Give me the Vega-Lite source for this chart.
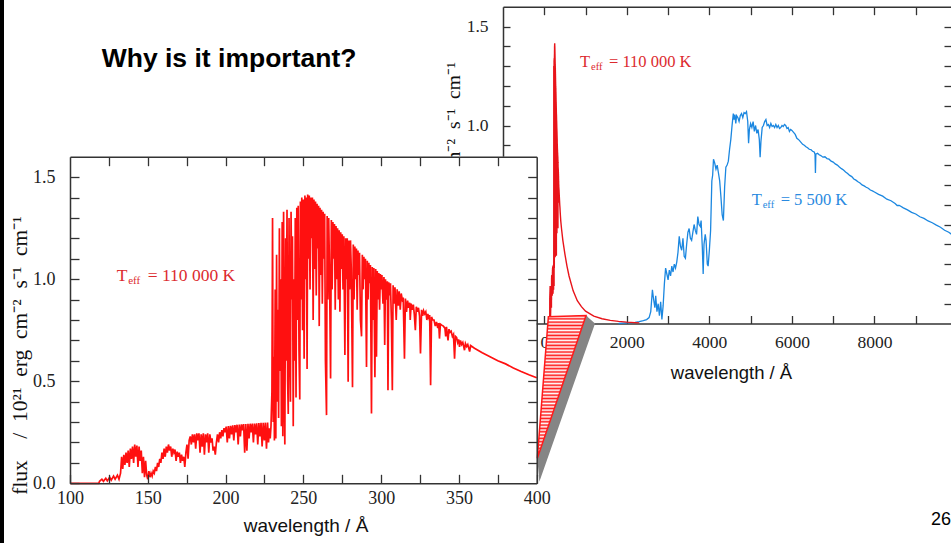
{
  "$schema": "https://vega.github.io/schema/vega-lite/v6.json",
  "width": 951,
  "height": 543,
  "autosize": {"type": "none"},
  "padding": 0,
  "background": "white",
  "config": {
    "view": {"stroke": null},
    "axis": {"grid": false, "labelFont": "Liberation Serif", "labelColor": "#222", "tickColor": "#333", "domainColor": "#333", "domainWidth": 1.5, "tickWidth": 1.3, "titleFont": "Liberation Sans", "titleFontWeight": "normal", "titleColor": "#111", "labelFlush": false, "labelOverlap": false, "labelBound": false}
  },
  "title": {"text": "Why is it important?", "anchor": "start", "frame": "group", "orient": "top", "offset": 0, "dx": 101.7, "dy": 95, "baseline": "alphabetic", "font": "Liberation Sans", "fontSize": 26.5, "fontWeight": "bold", "color": "black"},
  "datasets": {
    "hot": [
      {"w":100,"f":0},{"w":110,"f":0},{"w":118.5,"f":0},{"w":119,"f":0.01},{"w":120.5,"f":0.02},{"w":121.5,"f":0.01},{"w":123,"f":0.025},{"w":124,"f":0.012},{"w":125.5,"f":0.03},{"w":126.5,"f":0.015},{"w":128,"f":0.035},{"w":129,"f":0.02},{"w":130.5,"f":0.04},{"w":131.5,"f":0.02},{"w":132.5,"f":0.05},{"w":133.2,"f":0.13},{"w":133.9,"f":0.07},{"w":134.6,"f":0.14},{"w":135.3,"f":0.09},{"w":136,"f":0.15},{"w":136.7,"f":0.1},{"w":137.4,"f":0.16},{"w":138.1,"f":0.08},{"w":138.8,"f":0.17},{"w":139.5,"f":0.12},{"w":140.2,"f":0.18},{"w":140.9,"f":0.1},{"w":141.6,"f":0.19},{"w":142.3,"f":0.13},{"w":143,"f":0.185},{"w":143.7,"f":0.08},{"w":144.4,"f":0.18},{"w":145.1,"f":0.11},{"w":145.8,"f":0.16},{"w":146.5,"f":0.05},{"w":147.2,"f":0.13},{"w":147.9,"f":0.03},{"w":148.6,"f":0.11},{"w":149.3,"f":0.04},{"w":150,"f":0.02},{"w":150.7,"f":0.06},{"w":151.4,"f":0.03},{"w":152.1,"f":0.05},{"w":152.8,"f":0.035},{"w":153.5,"f":0.06},{"w":154.2,"f":0.05},{"w":154.9,"f":0.08},{"w":155.6,"f":0.06},{"w":156.3,"f":0.1},{"w":157,"f":0.08},{"w":157.7,"f":0.12},
      {"w":158.4,"f":0.1},{"w":159.1,"f":0.15},{"w":159.8,"f":0.12},{"w":160.5,"f":0.17},{"w":161.2,"f":0.13},{"w":161.9,"f":0.18},{"w":162.6,"f":0.15},{"w":163.3,"f":0.19},{"w":164,"f":0.16},{"w":164.7,"f":0.18},{"w":165.4,"f":0.13},{"w":166.1,"f":0.17},{"w":166.8,"f":0.15},{"w":167.5,"f":0.165},{"w":168.2,"f":0.11},{"w":168.9,"f":0.155},{"w":169.6,"f":0.13},{"w":170.3,"f":0.15},{"w":171,"f":0.1},{"w":171.7,"f":0.14},{"w":172.4,"f":0.11},{"w":173.1,"f":0.13},{"w":173.8,"f":0.08},{"w":174.5,"f":0.15},{"w":175.2,"f":0.19},{"w":175.9,"f":0.12},{"w":176.6,"f":0.21},{"w":177.3,"f":0.23},{"w":178,"f":0.19},{"w":178.7,"f":0.24},{"w":179.4,"f":0.2},{"w":180.1,"f":0.24},{"w":180.8,"f":0.17},{"w":181.5,"f":0.245},{"w":182.2,"f":0.21},{"w":182.9,"f":0.245},{"w":183.6,"f":0.15},{"w":184.3,"f":0.24},{"w":185,"f":0.18},{"w":185.7,"f":0.245},{"w":186.4,"f":0.14},{"w":187.1,"f":0.24},{"w":187.8,"f":0.2},{"w":188.5,"f":0.245},{"w":189.2,"f":0.15},{"w":189.9,"f":0.24},{"w":190.6,"f":0.2},{"w":191.3,"f":0.22},{"w":192,"f":0.16},{"w":192.7,"f":0.18},{"w":193.4,"f":0.14},{"w":194.1,"f":0.2},{"w":194.8,"f":0.24},{"w":195.5,"f":0.2},{"w":196.2,"f":0.25},{"w":196.9,"f":0.22},{"w":197.6,"f":0.26},{"w":198.3,"f":0.23},{"w":199,"f":0.27},{"w":199.7,"f":0.25},
      {"w":200.4,"f":0.278},{"w":201.1,"f":0.2},{"w":201.8,"f":0.28},{"w":202.5,"f":0.22},{"w":203.2,"f":0.282},{"w":203.9,"f":0.24},{"w":204.6,"f":0.284},{"w":205.3,"f":0.21},{"w":206,"f":0.285},{"w":206.7,"f":0.25},{"w":207.4,"f":0.287},{"w":208.1,"f":0.19},{"w":208.8,"f":0.288},{"w":209.5,"f":0.23},{"w":210.2,"f":0.289},{"w":210.9,"f":0.26},{"w":211.6,"f":0.29},{"w":212.3,"f":0.15},{"w":213,"f":0.29},{"w":213.7,"f":0.16},{"w":214.4,"f":0.291},{"w":215.1,"f":0.22},{"w":215.8,"f":0.292},{"w":216.5,"f":0.25},{"w":217.2,"f":0.293},{"w":217.9,"f":0.2},{"w":218.6,"f":0.293},{"w":219.3,"f":0.24},{"w":220,"f":0.294},{"w":220.7,"f":0.19},{"w":221.4,"f":0.295},{"w":222.1,"f":0.23},{"w":222.8,"f":0.296},{"w":223.5,"f":0.18},{"w":224.2,"f":0.296},{"w":224.9,"f":0.21},{"w":225.6,"f":0.297},{"w":226.3,"f":0.17},{"w":227,"f":0.298},{"w":227.6,"f":0.2},{"w":228.2,"f":0.27},{"w":228.7,"f":0.22},{"w":229.2,"f":0.28},
      {"w":229.8,"f":0.45},{"w":230.2,"f":1.3},{"w":230.6,"f":0.3},{"w":231,"f":0.62},{"w":231.4,"f":0.21},{"w":231.9,"f":0.95},{"w":232.3,"f":0.22},{"w":232.8,"f":1.12},{"w":233.2,"f":0.4},{"w":233.7,"f":0.85},{"w":234.1,"f":0.32},{"w":234.6,"f":1.25},{"w":235,"f":0.55},{"w":235.5,"f":1.0},{"w":235.9,"f":0.28},{"w":236.4,"f":1.28},{"w":236.8,"f":0.23},{"w":237.3,"f":1.33},{"w":237.7,"f":0.45},{"w":238.1,"f":0.19},{"w":238.6,"f":1.2},{"w":239,"f":0.6},{"w":239.5,"f":1.34},{"w":239.9,"f":0.5},{"w":240.3,"f":0.34},{"w":240.8,"f":1.3},{"w":241.2,"f":0.7},{"w":241.7,"f":0.4},{"w":242.1,"f":1.33},{"w":242.6,"f":0.9},{"w":243,"f":1.21},{"w":243.5,"f":0.28},{"w":243.9,"f":1.0},{"w":244.4,"f":0.6},{"w":244.8,"f":1.3},{"w":245.3,"f":0.42},{"w":245.8,"f":1.35},{"w":246.3,"f":0.8},{"w":246.7,"f":1.36},{"w":247.2,"f":0.65},{"w":247.7,"f":0.41},{"w":248.1,"f":1.38},{"w":248.6,"f":0.9},{"w":249,"f":1.4},{"w":249.5,"f":0.75},{"w":250,"f":1.39},{"w":250.5,"f":0.61},{"w":251,"f":1.41},{"w":251.4,"f":1.0},{"w":251.9,"f":1.4},{"w":252.4,"f":0.56},{"w":252.8,"f":1.415},{"w":253.3,"f":1.1},{"w":253.8,"f":1.41},{"w":254.3,"f":0.95},{"w":254.8,"f":1.4},{"w":255.3,"f":1.2},{"w":255.8,"f":1.4},{"w":256.3,"f":0.8},{"w":256.8,"f":1.39},{"w":257.3,"f":1.05},{"w":257.8,"f":1.38},{"w":258.3,"f":0.92},{"w":258.8,"f":1.37},{"w":259.3,"f":1.15},{"w":259.8,"f":1.36},{"w":260.2,"f":0.77},{"w":260.7,"f":1.35},{"w":261.2,"f":1.02},{"w":261.7,"f":1.34},{"w":262.2,"f":0.88},{"w":262.7,"f":1.33},{"w":263.2,"f":1.1},{"w":263.7,"f":1.32},{"w":264.2,"f":0.6},{"w":264.9,"f":0.334},{"w":265.3,"f":1.31},{"w":265.8,"f":0.9},{"w":266.3,"f":1.3},{"w":266.8,"f":1.05},{"w":267.5,"f":0.514},{"w":268,"f":1.29},{"w":268.5,"f":0.95},{"w":269,"f":1.28},{"w":269.5,"f":1.1},{"w":270,"f":1.27},{"w":270.5,"f":0.85},{"w":271,"f":1.26},{"w":271.5,"f":1.0},{"w":272,"f":1.25},{"w":272.5,"f":0.9},{"w":273,"f":1.24},{"w":273.5,"f":0.84},{"w":274,"f":1.23},{"w":274.5,"f":1.05},{"w":275,"f":1.22},{"w":275.5,"f":0.95},{"w":276,"f":1.21},{"w":276.7,"f":0.628},{"w":277.2,"f":1.2},{"w":277.7,"f":1.0},{"w":278.2,"f":1.2},{"w":278.8,"f":0.497},{"w":279.3,"f":1.19},{"w":279.8,"f":0.95},{"w":280.3,"f":1.19},{"w":280.8,"f":1.05},{"w":281.6,"f":0.47},{"w":282.1,"f":1.17},{"w":282.6,"f":0.9},{"w":283.1,"f":1.16},{"w":283.6,"f":1.0},{"w":284.1,"f":1.15},{"w":284.6,"f":0.85},{"w":285.1,"f":1.14},{"w":285.6,"f":1.02},{"w":286.1,"f":1.13},{"w":286.7,"f":0.8},{"w":287.4,"f":0.72},{"w":287.9,"f":1.12},{"w":288.4,"f":0.95},{"w":288.9,"f":1.11},{"w":289.4,"f":1.0},{"w":289.9,"f":1.1},{"w":290.6,"f":0.57},{"w":291.1,"f":1.09},{"w":291.6,"f":0.9},{"w":292.1,"f":1.08},{"w":292.6,"f":0.98},{"w":293.1,"f":1.07},{"w":293.8,"f":0.342},{"w":294.3,"f":1.06},{"w":294.8,"f":0.8},{"w":295.3,"f":1.055},{"w":296,"f":0.52},{"w":296.5,"f":1.05},{"w":297,"f":0.62},{"w":297.5,"f":1.04},{"w":298,"f":0.9},{"w":298.5,"f":1.03},{"w":299,"f":0.85},{"w":299.5,"f":1.025},{"w":300,"f":0.95},
      {"w":300.5,"f":1.02},{"w":301.2,"f":0.88},{"w":301.8,"f":1.01},{"w":302.3,"f":0.677},{"w":302.8,"f":1.0},{"w":303.4,"f":0.9},{"w":304,"f":0.99},{"w":304.4,"f":0.456},{"w":304.9,"f":0.985},{"w":305.5,"f":0.92},{"w":306,"f":0.98},{"w":306.6,"f":0.8},{"w":307.2,"f":0.456},{"w":307.7,"f":0.97},{"w":308.3,"f":0.88},{"w":308.9,"f":0.96},{"w":309.7,"f":0.8},{"w":310.3,"f":0.95},{"w":311,"f":0.87},{"w":311.6,"f":0.94},{"w":312.3,"f":0.85},{"w":312.9,"f":0.93},{"w":313.6,"f":0.9},{"w":314.2,"f":0.91},{"w":315,"f":0.61},{"w":315.6,"f":0.905},{"w":316.3,"f":0.84},{"w":317,"f":0.895},{"w":317.7,"f":0.86},{"w":318.4,"f":0.885},{"w":318.7,"f":0.8},{"w":319.3,"f":0.88},{"w":320,"f":0.85},{"w":320.7,"f":0.875},{"w":321.3,"f":0.83},{"w":322,"f":0.75},{"w":322.6,"f":0.865},{"w":323.3,"f":0.84},{"w":324,"f":0.86},{"w":324.7,"f":0.82},{"w":325.3,"f":0.636},{"w":326,"f":0.85},{"w":326.7,"f":0.82},{"w":327.3,"f":0.845},{"w":328,"f":0.83},{"w":328.7,"f":0.84},{"w":329.4,"f":0.8},{"w":330,"f":0.83},{"w":330.7,"f":0.81},{"w":331.2,"f":0.825},{"w":331.8,"f":0.481},{"w":332.4,"f":0.815},{"w":333.2,"f":0.8},{"w":334,"f":0.8},{"w":334.8,"f":0.77},{"w":335.6,"f":0.79},{"w":336.4,"f":0.76},{"w":337,"f":0.785},{"w":337.5,"f":0.709},{"w":338.1,"f":0.78},{"w":339,"f":0.775},{"w":340,"f":0.77},{"w":341,"f":0.76},{"w":341.5,"f":0.72},{"w":342,"f":0.766},{"w":343,"f":0.7},{"w":343.6,"f":0.755},{"w":344.3,"f":0.74},{"w":345,"f":0.745},{"w":345.8,"f":0.72},{"w":346.5,"f":0.73},{"w":347.2,"f":0.61},{"w":347.8,"f":0.72},{"w":348.5,"f":0.715},{"w":349.2,"f":0.69},{"w":349.8,"f":0.705},{"w":350.4,"f":0.668},{"w":351,"f":0.7},{"w":351.8,"f":0.68},{"w":352.5,"f":0.69},{"w":353.6,"f":0.652},{"w":354.2,"f":0.685},{"w":355,"f":0.67},{"w":355.7,"f":0.68},{"w":356.9,"f":0.645},{"w":357.5,"f":0.675},{"w":360,"f":0.662},{"w":365,"f":0.64},{"w":370,"f":0.62},{"w":375,"f":0.6},{"w":380,"f":0.585},{"w":385,"f":0.565},{"w":390,"f":0.548},{"w":395,"f":0.532},{"w":400,"f":0.517},
      {"w":420,"f":0.475},{"w":450,"f":0.42},{"w":500,"f":0.35},{"w":550,"f":0.29},{"w":600,"f":0.24},{"w":700,"f":0.165},{"w":800,"f":0.115},{"w":900,"f":0.085},{"w":1000,"f":0.062},{"w":1200,"f":0.037},{"w":1400,"f":0.024},{"w":1600,"f":0.016},{"w":1800,"f":0.011},{"w":2000,"f":0.007},{"w":2300,"f":0.003}
    ],
    "cool": [
      {"w":1800,"f":0},{"w":2000,"f":0.003},{"w":2100,"f":0.004},{"w":2200,"f":0.006},{"w":2300,"f":0.01},{"w":2400,"f":0.015},{"w":2480,"f":0.02},{"w":2540,"f":0.03},{"w":2580,"f":0.06},{"w":2620,"f":0.17},{"w":2650,"f":0.12},{"w":2680,"f":0.08},{"w":2700,"f":0.14},{"w":2730,"f":0.06},{"w":2760,"f":0.1},{"w":2790,"f":0.04},{"w":2820,"f":0.11},{"w":2850,"f":0.02},{"w":2880,"f":0.09},{"w":2910,"f":0.2},{"w":2940,"f":0.28},{"w":2970,"f":0.25},{"w":3000,"f":0.22},{"w":3030,"f":0.27},{"w":3060,"f":0.24},{"w":3090,"f":0.29},{"w":3120,"f":0.26},{"w":3150,"f":0.3},{"w":3180,"f":0.28},{"w":3210,"f":0.31},{"w":3240,"f":0.36},{"w":3270,"f":0.44},{"w":3300,"f":0.39},{"w":3330,"f":0.37},{"w":3360,"f":0.43},{"w":3390,"f":0.34},{"w":3420,"f":0.33},{"w":3450,"f":0.4},{"w":3480,"f":0.46},{"w":3510,"f":0.48},{"w":3540,"f":0.43},{"w":3570,"f":0.42},{"w":3600,"f":0.46},{"w":3630,"f":0.5},{"w":3660,"f":0.47},{"w":3690,"f":0.45},{"w":3720,"f":0.54},{"w":3750,"f":0.5},{"w":3780,"f":0.49},{"w":3800,"f":0.52},{"w":3830,"f":0.38},{"w":3850,"f":0.25},{"w":3870,"f":0.4},{"w":3900,"f":0.45},{"w":3920,"f":0.42},{"w":3950,"f":0.3},{"w":3970,"f":0.29},{"w":4000,"f":0.37},{"w":4030,"f":0.47},{"w":4060,"f":0.72},{"w":4080,"f":0.75},{"w":4100,"f":0.83},{"w":4130,"f":0.81},{"w":4160,"f":0.78},{"w":4190,"f":0.8},{"w":4220,"f":0.76},{"w":4250,"f":0.72},{"w":4280,"f":0.64},{"w":4310,"f":0.55},{"w":4340,"f":0.52},{"w":4370,"f":0.69},{"w":4400,"f":0.79},{"w":4430,"f":0.8},{"w":4460,"f":0.82},{"w":4490,"f":0.88},{"w":4520,"f":0.93},{"w":4550,"f":1.0},{"w":4580,"f":1.06},{"w":4600,"f":1.03},{"w":4620,"f":1.055},{"w":4640,"f":1.01},{"w":4660,"f":1.05},{"w":4690,"f":1.04},{"w":4720,"f":1.02},{"w":4750,"f":1.05},{"w":4780,"f":1.06},{"w":4810,"f":1.04},{"w":4840,"f":1.065},{"w":4870,"f":1.06},{"w":4900,"f":1.07},{"w":4930,"f":1.02},{"w":4950,"f":0.91},{"w":4970,"f":0.98},{"w":5000,"f":1.01},{"w":5030,"f":0.99},{"w":5060,"f":1.02},{"w":5090,"f":0.97},{"w":5120,"f":1.0},{"w":5150,"f":0.96},{"w":5180,"f":0.98},{"w":5210,"f":0.93},{"w":5230,"f":0.84},{"w":5250,"f":0.92},{"w":5280,"f":0.99},{"w":5310,"f":1.0},{"w":5340,"f":1.02},{"w":5370,"f":1.03},{"w":5400,"f":1.0},{"w":5430,"f":1.005},{"w":5460,"f":0.99},{"w":5490,"f":1.01},{"w":5520,"f":0.995},{"w":5550,"f":1.0},{"w":5580,"f":0.99},{"w":5610,"f":1.005},{"w":5640,"f":0.99},{"w":5670,"f":1.0},{"w":5700,"f":0.985},{"w":5730,"f":0.99},{"w":5760,"f":1.0},{"w":5790,"f":0.995},{"w":5820,"f":1.005},{"w":5850,"f":1.0},{"w":5880,"f":0.985},{"w":5910,"f":0.99},{"w":5940,"f":0.97},{"w":5970,"f":0.98},{"w":6000,"f":0.975},{"w":6040,"f":0.965},{"w":6080,"f":0.955},{"w":6120,"f":0.935},{"w":6150,"f":0.93},{"w":6180,"f":0.925},{"w":6220,"f":0.915},{"w":6260,"f":0.905},{"w":6300,"f":0.9},{"w":6340,"f":0.893},{"w":6380,"f":0.888},{"w":6420,"f":0.88},{"w":6460,"f":0.878},{"w":6500,"f":0.87},{"w":6540,"f":0.866},{"w":6560,"f":0.855},{"w":6570,"f":0.76},{"w":6580,"f":0.855},{"w":6620,"f":0.86},{"w":6660,"f":0.852},{"w":6700,"f":0.848},{"w":6750,"f":0.84},{"w":6800,"f":0.842},{"w":6850,"f":0.833},{"w":6900,"f":0.83},{"w":6950,"f":0.82},{"w":7000,"f":0.815},{"w":7050,"f":0.806},{"w":7100,"f":0.8},{"w":7150,"f":0.79},{"w":7200,"f":0.782},{"w":7250,"f":0.775},{"w":7300,"f":0.765},{"w":7350,"f":0.758},{"w":7400,"f":0.748},{"w":7450,"f":0.742},{"w":7500,"f":0.73},{"w":7550,"f":0.724},{"w":7600,"f":0.716},{"w":7650,"f":0.71},{"w":7700,"f":0.7},{"w":7750,"f":0.695},{"w":7800,"f":0.688},{"w":7850,"f":0.683},{"w":7900,"f":0.674},{"w":7950,"f":0.67},{"w":8000,"f":0.664},{"w":8100,"f":0.652},{"w":8200,"f":0.643},{"w":8300,"f":0.628},{"w":8400,"f":0.62},{"w":8500,"f":0.606},{"w":8550,"f":0.596},{"w":8600,"f":0.597},{"w":8700,"f":0.584},{"w":8800,"f":0.574},{"w":8900,"f":0.561},{"w":9000,"f":0.553},{"w":9100,"f":0.539},{"w":9200,"f":0.531},{"w":9300,"f":0.518},{"w":9400,"f":0.509},{"w":9500,"f":0.497},{"w":9600,"f":0.486},{"w":9700,"f":0.471},{"w":9800,"f":0.461},{"w":9900,"f":0.446},{"w":10000,"f":0.435}
    ],
    "labels": [
      {"panel":"back","series":"hot","w":865,"f":1.297,"t1":"T","t2":"eff","t3":"= 110 000 K"},
      {"panel":"back","series":"cool","w":5025,"f":0.598,"t1":"T","t2":"eff","t3":"= 5 500 K"},
      {"panel":"front","series":"hot","w":130,"f":0.992,"t1":"T","t2":"eff","t3":"= 110 000 K"}
    ],
    "side": [
      {"w":400.4,"top":0.1225,"bot":0.1225},{"w":401.7,"top":0.151,"bot":0.008},{"w":431.7,"top":0.822,"bot":0.658},{"w":437.5,"top":0.783,"bot":0.783}
    ],
    "hatch": [
      {"w":400.4,"top":0.1225,"bot":0.1225},{"w":407.5,"top":0.816,"bot":0.281},{"w":431.7,"top":0.822,"bot":0.822}
    ]
  },
  "resolve": {"scale": {"x": "independent", "y": "independent"}, "axis": {"x": "independent", "y": "independent"}},
  "layer": [
    {
      "data": {"name": "cool"},
      "mark": {"type": "line", "color": "#1b87e0", "strokeWidth": 1.3},
      "encoding": {
        "x": {"field": "w", "type": "quantitative", "scale": {"domain": [-1000, 10000], "range": [503, 957], "nice": false, "zero": false},
              "axis": {"orient": "top", "offset": -6.7, "values": [0,1000,2000,3000,4000,5000,6000,7000,8000,9000,10000], "labels": false, "tickSize": -8, "title": null, "zindex": 0}},
        "y": {"field": "f", "type": "quantitative", "scale": {"domain": [0, 1.6], "range": [323.5, 6.7], "nice": false, "zero": false},
              "axis": {"orient": "right", "offset": 0, "values": [0.1,0.2,0.3,0.4,0.5,0.6,0.7,0.8,0.9,1,1.1,1.2,1.3,1.4,1.5], "labels": false, "tickSize": -7, "domain": false, "title": null, "zindex": 0}}
      }
    },
    {
      "data": {"name": "hot"},
      "mark": {"type": "line", "color": "#e8141a", "strokeWidth": 1.4},
      "encoding": {
        "x": {"field": "w", "type": "quantitative", "scale": {"domain": [-1000, 10000], "range": [503, 957], "nice": false, "zero": false},
              "axis": {"orient": "bottom", "offset": -219.5, "values": [0,1000,2000,3000,4000,5000,6000,7000,8000,9000], "labelExpr": "datum.value % 2000 === 0 ? format(datum.value, 'd') : ''", "tickSize": -8, "labelPadding": 18, "labelFontSize": 17.5, "title": "wavelength / Å", "titleFontSize": 18.5, "titleX": 731, "titleY": 48.5, "titleBaseline": "middle", "zindex": 0}},
        "y": {"field": "f", "type": "quantitative", "scale": {"domain": [0, 1.6], "range": [323.5, 6.7], "nice": false, "zero": false},
              "axis": {"orient": "left", "offset": -503, "values": [0,0.1,0.2,0.3,0.4,0.5,0.6,0.7,0.8,0.9,1,1.1,1.2,1.3,1.4,1.5], "labelExpr": "round(datum.value*10) % 5 === 0 ? format(datum.value, '.1f') : ''", "tickSize": -7, "labelPadding": 22, "labelFontSize": 17.5, "title": "flux\u2003/\u200210²¹\u2002erg\u2002cm⁻²\u2002s⁻¹\u2002cm⁻¹", "titleFont": "Liberation Serif", "titleFontSize": 19.5, "titleX": -49.5, "titleY": 189, "titleAngle": -90, "titleAlign": "center", "titleBaseline": "middle", "zindex": 0}}
      }
    },
    {
      "data": {"name": "labels"},
      "transform": [{"filter": "datum.panel === 'back'"}],
      "mark": {"type": "text", "align": "left", "baseline": "alphabetic", "font": "Liberation Serif", "fontSize": 16.5},
      "encoding": {
        "x": {"field": "w", "type": "quantitative", "scale": {"domain": [-1000, 10000], "range": [503, 957], "nice": false, "zero": false}, "axis": null},
        "y": {"field": "f", "type": "quantitative", "scale": {"domain": [0, 1.6], "range": [323.5, 6.7], "nice": false, "zero": false}, "axis": null},
        "text": {"field": "t1"},
        "color": {"field": "series", "type": "nominal", "scale": {"domain": ["hot", "cool"], "range": ["#dc2a2e", "#2a8ae0"]}, "legend": null}
      }
    },
    {
      "data": {"name": "labels"},
      "transform": [{"filter": "datum.panel === 'back'"}],
      "mark": {"type": "text", "align": "left", "baseline": "alphabetic", "font": "Liberation Serif", "fontSize": 10.5, "dx": 11, "dy": 3},
      "encoding": {
        "x": {"field": "w", "type": "quantitative", "scale": {"domain": [-1000, 10000], "range": [503, 957], "nice": false, "zero": false}, "axis": null},
        "y": {"field": "f", "type": "quantitative", "scale": {"domain": [0, 1.6], "range": [323.5, 6.7], "nice": false, "zero": false}, "axis": null},
        "text": {"field": "t2"},
        "color": {"field": "series", "type": "nominal", "legend": null}
      }
    },
    {
      "data": {"name": "labels"},
      "transform": [{"filter": "datum.panel === 'back'"}],
      "mark": {"type": "text", "align": "left", "baseline": "alphabetic", "font": "Liberation Serif", "fontSize": 16.5, "dx": 29},
      "encoding": {
        "x": {"field": "w", "type": "quantitative", "scale": {"domain": [-1000, 10000], "range": [503, 957], "nice": false, "zero": false}, "axis": null},
        "y": {"field": "f", "type": "quantitative", "scale": {"domain": [0, 1.6], "range": [323.5, 6.7], "nice": false, "zero": false}, "axis": null},
        "text": {"field": "t3"},
        "color": {"field": "series", "type": "nominal", "legend": null}
      }
    },
    {
      "data": {"values": [{"w": 9370, "f": -1.018, "page": "26"}]},
      "mark": {"type": "text", "align": "left", "baseline": "alphabetic", "font": "Liberation Sans", "fontSize": 18, "color": "black"},
      "encoding": {
        "x": {"field": "w", "type": "quantitative", "scale": {"domain": [-1000, 10000], "range": [503, 957], "nice": false, "zero": false}, "axis": null},
        "y": {"field": "f", "type": "quantitative", "scale": {"domain": [0, 1.6], "range": [323.5, 6.7], "nice": false, "zero": false}, "axis": null},
        "text": {"field": "page"}
      }
    },
    {
      "data": {"values": [{}]},
      "mark": {"type": "rect", "fill": "white"},
      "encoding": {
        "x": {"datum": 100, "type": "quantitative", "scale": {"domain": [100, 400], "range": [70, 536.7], "nice": false, "zero": false},
              "axis": {"orient": "top", "offset": -156.7, "values": [125,150,175,200,225,250,275,300,325,350,375], "labels": false, "tickSize": -9, "title": null, "zindex": 1}},
        "x2": {"datum": 400},
        "y": {"datum": 0, "type": "quantitative", "scale": {"domain": [0, 1.6], "range": [483.3, 156.7], "nice": false, "zero": false},
              "axis": {"orient": "right", "offset": -414.3, "values": [0.1,0.2,0.3,0.4,0.5,0.6,0.7,0.8,0.9,1,1.1,1.2,1.3,1.4,1.5], "labels": false, "tickSize": -9, "title": null, "zindex": 1}},
        "y2": {"datum": 1.6}
      }
    },
    {
      "data": {"name": "hot"},
      "transform": [{"filter": {"field": "w", "lte": 400}}],
      "mark": {"type": "line", "color": "#ff1010", "strokeWidth": 1.7},
      "encoding": {
        "x": {"field": "w", "type": "quantitative", "scale": {"domain": [100, 400], "range": [70, 536.7], "nice": false, "zero": false},
              "axis": {"orient": "bottom", "offset": -59.7, "values": [100,125,150,175,200,225,250,275,300,325,350,375,400], "labelExpr": "datum.value % 50 === 0 ? format(datum.value, 'd') : ''", "tickSize": -9, "labelPadding": 15, "labelFontSize": 18, "title": "wavelength / Å", "titleFontSize": 19, "titleX": 305.5, "titleY": 42, "titleBaseline": "middle", "zindex": 1}},
        "y": {"field": "f", "type": "quantitative", "scale": {"domain": [0, 1.6], "range": [483.3, 156.7], "nice": false, "zero": false},
              "axis": {"orient": "left", "offset": -70, "values": [0,0.1,0.2,0.3,0.4,0.5,0.6,0.7,0.8,0.9,1,1.1,1.2,1.3,1.4,1.5], "labelExpr": "round(datum.value*10) % 5 === 0 ? format(datum.value, '.1f') : ''", "tickSize": -9, "labelPadding": 24, "labelFontSize": 18, "title": "flux\u2003/\u200210²¹\u2002erg\u2002cm⁻²\u2002s⁻¹\u2002cm⁻¹", "titleFont": "Liberation Serif", "titleFontSize": 21.5, "titleX": -50, "titleY": 355, "titleAngle": -90, "titleAlign": "center", "titleBaseline": "middle", "zindex": 1}}
      }
    },
    {
      "data": {"name": "labels"},
      "transform": [{"filter": "datum.panel === 'front'"}],
      "mark": {"type": "text", "align": "left", "baseline": "alphabetic", "font": "Liberation Serif", "fontSize": 17.5},
      "encoding": {
        "x": {"field": "w", "type": "quantitative", "scale": {"domain": [100, 400], "range": [70, 536.7], "nice": false, "zero": false}, "axis": null},
        "y": {"field": "f", "type": "quantitative", "scale": {"domain": [0, 1.6], "range": [483.3, 156.7], "nice": false, "zero": false}, "axis": null},
        "text": {"field": "t1"},
        "color": {"field": "series", "type": "nominal", "legend": null}
      }
    },
    {
      "data": {"name": "labels"},
      "transform": [{"filter": "datum.panel === 'front'"}],
      "mark": {"type": "text", "align": "left", "baseline": "alphabetic", "font": "Liberation Serif", "fontSize": 11, "dx": 11.5, "dy": 3.5},
      "encoding": {
        "x": {"field": "w", "type": "quantitative", "scale": {"domain": [100, 400], "range": [70, 536.7], "nice": false, "zero": false}, "axis": null},
        "y": {"field": "f", "type": "quantitative", "scale": {"domain": [0, 1.6], "range": [483.3, 156.7], "nice": false, "zero": false}, "axis": null},
        "text": {"field": "t2"},
        "color": {"field": "series", "type": "nominal", "legend": null}
      }
    },
    {
      "data": {"name": "labels"},
      "transform": [{"filter": "datum.panel === 'front'"}],
      "mark": {"type": "text", "align": "left", "baseline": "alphabetic", "font": "Liberation Serif", "fontSize": 17.5, "dx": 31},
      "encoding": {
        "x": {"field": "w", "type": "quantitative", "scale": {"domain": [100, 400], "range": [70, 536.7], "nice": false, "zero": false}, "axis": null},
        "y": {"field": "f", "type": "quantitative", "scale": {"domain": [0, 1.6], "range": [483.3, 156.7], "nice": false, "zero": false}, "axis": null},
        "text": {"field": "t3"},
        "color": {"field": "series", "type": "nominal", "legend": null}
      }
    },
    {
      "data": {"name": "side"},
      "mark": {"type": "area", "color": "#858585", "opacity": 1},
      "encoding": {
        "x": {"field": "w", "type": "quantitative", "scale": {"domain": [100, 400], "range": [70, 536.7], "nice": false, "zero": false}, "axis": null},
        "y": {"field": "top", "type": "quantitative", "scale": {"domain": [0, 1.6], "range": [483.3, 156.7], "nice": false, "zero": false}, "axis": null},
        "y2": {"field": "bot"}
      }
    },
    {
      "data": {"name": "hatch"},
      "mark": {"type": "area", "stroke": "#ff1a1a", "strokeWidth": 1.5,
               "fill": {"gradient": "linear", "x1": 0, "y1": 0, "x2": 0, "y2": 1, "stops": [
                 {"offset":0,"color":"#ff1a1a"},{"offset":0.0116,"color":"#ffffff"},{"offset":0.0233,"color":"#ff1a1a"},{"offset":0.0349,"color":"#ffffff"},{"offset":0.0465,"color":"#ff1a1a"},{"offset":0.0581,"color":"#ffffff"},{"offset":0.0698,"color":"#ff1a1a"},{"offset":0.0814,"color":"#ffffff"},{"offset":0.093,"color":"#ff1a1a"},{"offset":0.1047,"color":"#ffffff"},{"offset":0.1163,"color":"#ff1a1a"},{"offset":0.1279,"color":"#ffffff"},{"offset":0.1395,"color":"#ff1a1a"},{"offset":0.1512,"color":"#ffffff"},{"offset":0.1628,"color":"#ff1a1a"},{"offset":0.1744,"color":"#ffffff"},{"offset":0.186,"color":"#ff1a1a"},{"offset":0.1977,"color":"#ffffff"},{"offset":0.2093,"color":"#ff1a1a"},{"offset":0.2209,"color":"#ffffff"},{"offset":0.2326,"color":"#ff1a1a"},{"offset":0.2442,"color":"#ffffff"},{"offset":0.2558,"color":"#ff1a1a"},{"offset":0.2674,"color":"#ffffff"},{"offset":0.2791,"color":"#ff1a1a"},{"offset":0.2907,"color":"#ffffff"},{"offset":0.3023,"color":"#ff1a1a"},{"offset":0.314,"color":"#ffffff"},{"offset":0.3256,"color":"#ff1a1a"},{"offset":0.3372,"color":"#ffffff"},{"offset":0.3488,"color":"#ff1a1a"},{"offset":0.3605,"color":"#ffffff"},{"offset":0.3721,"color":"#ff1a1a"},{"offset":0.3837,"color":"#ffffff"},{"offset":0.3953,"color":"#ff1a1a"},{"offset":0.407,"color":"#ffffff"},{"offset":0.4186,"color":"#ff1a1a"},{"offset":0.4302,"color":"#ffffff"},{"offset":0.4419,"color":"#ff1a1a"},{"offset":0.4535,"color":"#ffffff"},{"offset":0.4651,"color":"#ff1a1a"},{"offset":0.4767,"color":"#ffffff"},{"offset":0.4884,"color":"#ff1a1a"},{"offset":0.5,"color":"#ffffff"},{"offset":0.5116,"color":"#ff1a1a"},{"offset":0.5233,"color":"#ffffff"},{"offset":0.5349,"color":"#ff1a1a"},{"offset":0.5465,"color":"#ffffff"},{"offset":0.5581,"color":"#ff1a1a"},{"offset":0.5698,"color":"#ffffff"},{"offset":0.5814,"color":"#ff1a1a"},{"offset":0.593,"color":"#ffffff"},{"offset":0.6047,"color":"#ff1a1a"},{"offset":0.6163,"color":"#ffffff"},{"offset":0.6279,"color":"#ff1a1a"},{"offset":0.6395,"color":"#ffffff"},{"offset":0.6512,"color":"#ff1a1a"},{"offset":0.6628,"color":"#ffffff"},{"offset":0.6744,"color":"#ff1a1a"},{"offset":0.686,"color":"#ffffff"},{"offset":0.6977,"color":"#ff1a1a"},{"offset":0.7093,"color":"#ffffff"},{"offset":0.7209,"color":"#ff1a1a"},{"offset":0.7326,"color":"#ffffff"},{"offset":0.7442,"color":"#ff1a1a"},{"offset":0.7558,"color":"#ffffff"},{"offset":0.7674,"color":"#ff1a1a"},{"offset":0.7791,"color":"#ffffff"},{"offset":0.7907,"color":"#ff1a1a"},{"offset":0.8023,"color":"#ffffff"},{"offset":0.814,"color":"#ff1a1a"},{"offset":0.8256,"color":"#ffffff"},{"offset":0.8372,"color":"#ff1a1a"},{"offset":0.8488,"color":"#ffffff"},{"offset":0.8605,"color":"#ff1a1a"},{"offset":0.8721,"color":"#ffffff"},{"offset":0.8837,"color":"#ff1a1a"},{"offset":0.8953,"color":"#ffffff"},{"offset":0.907,"color":"#ff1a1a"},{"offset":0.9186,"color":"#ffffff"},{"offset":0.9302,"color":"#ff1a1a"},{"offset":0.9419,"color":"#ffffff"},{"offset":0.9535,"color":"#ff1a1a"},{"offset":0.9651,"color":"#ffffff"},{"offset":0.9767,"color":"#ff1a1a"},{"offset":0.9884,"color":"#ffffff"},{"offset":1,"color":"#ff1a1a"}
               ]}},
      "encoding": {
        "x": {"field": "w", "type": "quantitative", "scale": {"domain": [100, 400], "range": [70, 536.7], "nice": false, "zero": false}, "axis": null},
        "y": {"field": "top", "type": "quantitative", "scale": {"domain": [0, 1.6], "range": [483.3, 156.7], "nice": false, "zero": false}, "axis": null},
        "y2": {"field": "bot"}
      }
    },
    {
      "data": {"values": [{}]},
      "mark": {"type": "rule", "color": "black", "strokeWidth": 4},
      "encoding": {
        "x": {"datum": 0, "type": "quantitative", "scale": {"domain": [0, 1], "range": [2, 951], "nice": false, "zero": false}, "axis": null},
        "y": {"datum": 0, "type": "quantitative", "scale": {"domain": [0, 1], "range": [543, 0], "nice": false, "zero": false}, "axis": null},
        "y2": {"datum": 1}
      }
    }
  ]
}
